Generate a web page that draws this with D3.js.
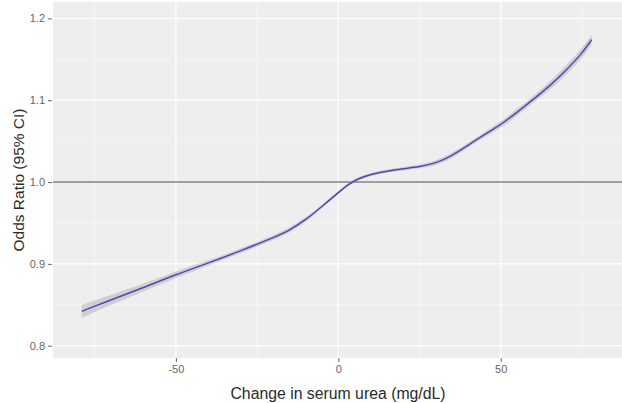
<!DOCTYPE html>
<html><head><meta charset="utf-8">
<script src="https://cdn.jsdelivr.net/npm/d3@7"></script>
<style>body{margin:0;background:#fff}svg{display:block}</style>
</head><body>
<svg id="c" width="622" height="403"></svg>
<script>
const xVals = [-79,-70,-60,-50,-40,-30,-20,-15,-10,-6,-3,0,3,6,10,15,20,25,30,35,40,45,50,55,60,65,70,75,78];
const orVals = [0.842,0.856,0.871,0.887,0.901,0.916,0.932,0.941,0.954,0.967,0.977,0.987,0.997,1.004,1.0095,1.0135,1.0163,1.0187,1.023,1.032,1.045,1.058,1.070,1.085,1.101,1.117,1.136,1.157,1.174];
const lowVals = [0.834,0.850,0.866,0.883,0.898,0.913,0.929,0.938,0.951,0.965,0.975,0.985,0.995,1.002,1.0075,1.0115,1.0143,1.0165,1.020,1.029,1.042,1.055,1.066,1.081,1.097,1.112,1.130,1.151,1.168];
const highVals = [0.850,0.862,0.876,0.891,0.904,0.919,0.935,0.944,0.957,0.969,0.979,0.989,0.999,1.006,1.0115,1.0155,1.0183,1.0209,1.026,1.035,1.048,1.061,1.074,1.089,1.105,1.122,1.142,1.163,1.180];
const xTicks = [-50,0,50];
const xMinor = [-75,-25,25,75];
const yTicks = [0.8,0.9,1.0,1.1,1.2];
const yMinor = [0.85,0.95,1.05,1.15];
const refLine = 1.0;
const xTitle = "Change in serum urea (mg/dL)";
const yTitle = "Odds Ratio (95% CI)";

const L=53, R=622, T=2, B=358;
const x = d3.scaleLinear().domain([(L-338.3)/3.248, (R-338.3)/3.248]).range([L, R]);
const y = d3.scaleLinear().domain([0.8-(B-345.7)/818, 1.0+(182-T)/818]).range([B, T]);

const svg = d3.select("#c");
const data = xVals.map((v,i)=>({x:v, y:orVals[i], lo:lowVals[i], hi:highVals[i]}));

svg.append("rect").attr("x",L).attr("y",T).attr("width",R-L).attr("height",B-T).attr("fill","#eeeeee");

const g = svg.append("g");
g.selectAll(".mx").data(xMinor).join("line").attr("x1",d=>x(d)).attr("x2",d=>x(d)).attr("y1",T).attr("y2",B).attr("stroke","#f8f8f8").attr("stroke-width",0.8);
g.selectAll(".my").data(yMinor).join("line").attr("y1",d=>y(d)).attr("y2",d=>y(d)).attr("x1",L).attr("x2",R).attr("stroke","#f8f8f8").attr("stroke-width",0.8);
g.selectAll(".Mx").data(xTicks).join("line").attr("x1",d=>x(d)).attr("x2",d=>x(d)).attr("y1",T).attr("y2",B).attr("stroke","#fcfcfc").attr("stroke-width",1.5);
g.selectAll(".My").data(yTicks).join("line").attr("y1",d=>y(d)).attr("y2",d=>y(d)).attr("x1",L).attr("x2",R).attr("stroke","#fcfcfc").attr("stroke-width",1.5);

svg.append("line").attr("x1",L).attr("x2",R).attr("y1",y(refLine)).attr("y2",y(refLine)).attr("stroke","#808080").attr("stroke-width",1.6);

const area = d3.area().curve(d3.curveBasis).x(d=>x(d.x)).y0(d=>y(d.lo)).y1(d=>y(d.hi));
svg.append("path").datum(data).attr("d",area).attr("fill","#a8a8a8").attr("opacity",0.45);
const line = d3.line().curve(d3.curveBasis).x(d=>x(d.x)).y(d=>y(d.y));
svg.append("path").datum(data).attr("d",line).attr("fill","none").attr("stroke","#4e48b4").attr("stroke-width",1.5);

const xAxis = d3.axisBottom(x).tickValues(xTicks).tickSize(4).tickPadding(3).tickFormat(d=>String(d));
const xa = svg.append("g").attr("transform",`translate(0,${B})`).call(xAxis);
const yAxis = d3.axisLeft(y).tickValues(yTicks).tickSize(4).tickPadding(3).tickFormat(d3.format(".1f"));
const ya = svg.append("g").attr("transform",`translate(${L-1},0)`).call(yAxis);
[xa,ya].forEach(a=>{
  a.select(".domain").remove();
  a.selectAll(".tick line").attr("stroke","#666");
  a.selectAll("text").attr("fill","#666").style("font-family","Liberation Sans, Arial, sans-serif").style("font-size","11px");
});

svg.append("text").attr("x",338).attr("y",399).attr("text-anchor","middle").attr("fill","#2a2a2a")
  .style("font-family","Liberation Sans, Arial, sans-serif").style("font-size","15.8px").text(xTitle);
svg.append("text").attr("transform",`translate(24,${180}) rotate(-90)`).attr("text-anchor","middle").attr("fill","#2a2a2a")
  .style("font-family","Liberation Sans, Arial, sans-serif").style("font-size","15.5px").text(yTitle);
</script>
</body></html>
